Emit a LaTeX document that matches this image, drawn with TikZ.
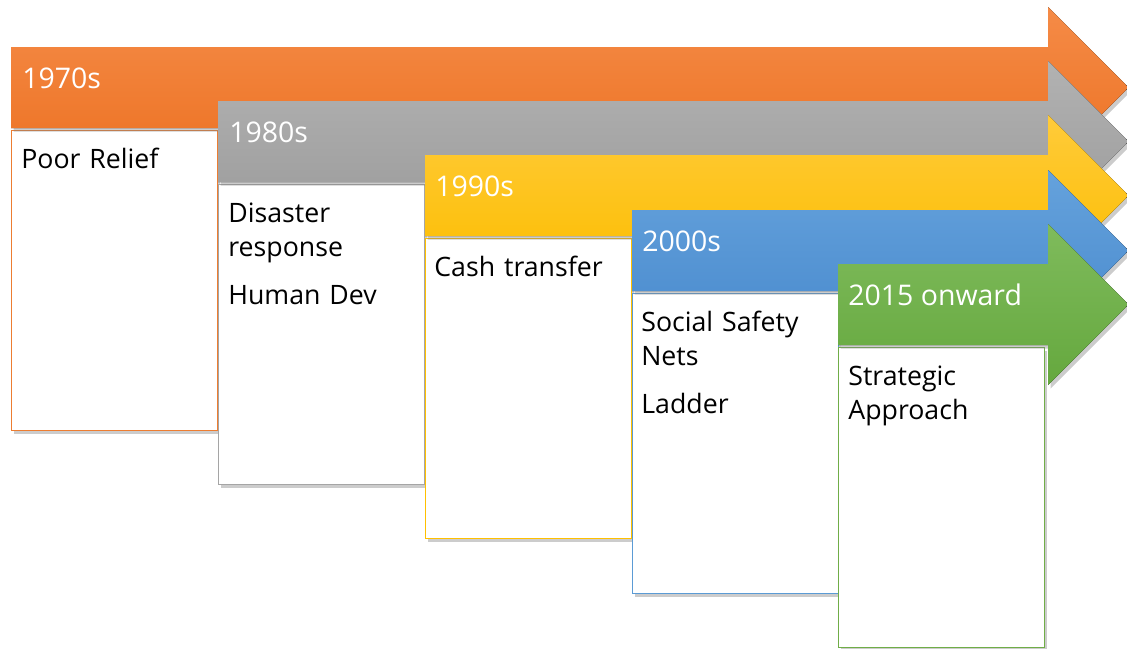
\documentclass[tikz,border=0pt]{standalone}
\usepackage{fontspec}
\setmainfont{Open Sans}
\usepackage{tikz}
\usetikzlibrary{shadows, positioning}

\definecolor{orangeA}{HTML}{F58B47}
\definecolor{orangeB}{HTML}{EC7122}
\definecolor{orangeL}{HTML}{ED7D31}
\definecolor{greyA}{HTML}{B2B2B2}
\definecolor{greyB}{HTML}{9B9B9B}
\definecolor{greyL}{HTML}{A5A5A5}
\definecolor{yellowA}{HTML}{FFCB3A}
\definecolor{yellowB}{HTML}{FCBD00}
\definecolor{yellowL}{HTML}{FFC000}
\definecolor{blueA}{HTML}{65A2DC}
\definecolor{blueB}{HTML}{4A8BCE}
\definecolor{blueL}{HTML}{5B9BD5}
\definecolor{greenA}{HTML}{7FBB5C}
\definecolor{greenB}{HTML}{65A83E}
\definecolor{greenL}{HTML}{70AD47}

\tikzstyle{shade} = [drop shadow={shadow xshift=1.5pt, shadow yshift=-2pt, opacity=0.4}]
\tikzstyle{box}   = [draw, fill=white, line width=0.8pt, shade, anchor=north west,
                     minimum width=4.12cm, minimum height=6cm, inner sep=0pt]
\tikzstyle{era}   = [text=white, anchor=base west, inner sep=0pt,
                     font=\fontsize{16.2}{19.6}\selectfont]
\tikzstyle{info}  = [text=black, anchor=base west, inner sep=0pt, text width=3.8cm, align=left,
                     font=\fontsize{15.2}{19.6}\selectfont]

% banner arrow: style, left end, top of shaft
\newcommand{\banner}[3]{%
  \fill [#1, shade] (#2,#3) -- (1048,#3) -- (1048,#3-40) -- (1128.5,#3+40.5)
    -- (1048,#3+121) -- (1048,#3+81) -- (#2,#3+81) -- cycle;}

\begin{document}
\begin{tikzpicture}[x=0.02cm, y=-0.02cm]

\useasboundingbox [fill=white] (0,0) rectangle (1127,649);

% 1970s
\node [box, draw=orangeL]  at ( 11, 130) (box1) {};
\banner{top color=orangeA, bottom color=orangeB}{11}{47}
\node [era]  at ( 22,  88) (era1)  {1970s};
\node [info] at ( 21, 168) (info1) {Poor Relief};

% 1980s
\node [box, draw=greyL]    at (218, 184) (box2) {};
\banner{top color=greyA, bottom color=greyB}{218}{101}
\node [era]  at (229, 142) (era2)  {1980s};
\node [info] at (228, 222) (info2) {Disaster\\response\\[8pt]Human Dev};

% 1990s
\node [box, draw=yellowL]  at (425, 238) (box3) {};
\banner{top color=yellowA, bottom color=yellowB}{425}{155}
\node [era]  at (435, 196) (era3)  {1990s};
\node [info] at (434, 276) (info3) {Cash transfer};

% 2000s
\node [box, draw=blueL]    at (632, 293) (box4) {};
\banner{top color=blueA, bottom color=blueB}{632}{210}
\node [era]  at (642, 251) (era4)  {2000s};
\node [info] at (641, 331) (info4) {Social Safety\\Nets\\[8pt]Ladder};

% 2015 onward
\node [box, draw=greenL]   at (838, 347) (box5) {};
\banner{top color=greenA, bottom color=greenB}{838}{264}
\node [era]  at (848, 305) (era5)  {2015 onward};
\node [info] at (848, 385) (info5) {Strategic\\Approach};

\end{tikzpicture}
\end{document}
